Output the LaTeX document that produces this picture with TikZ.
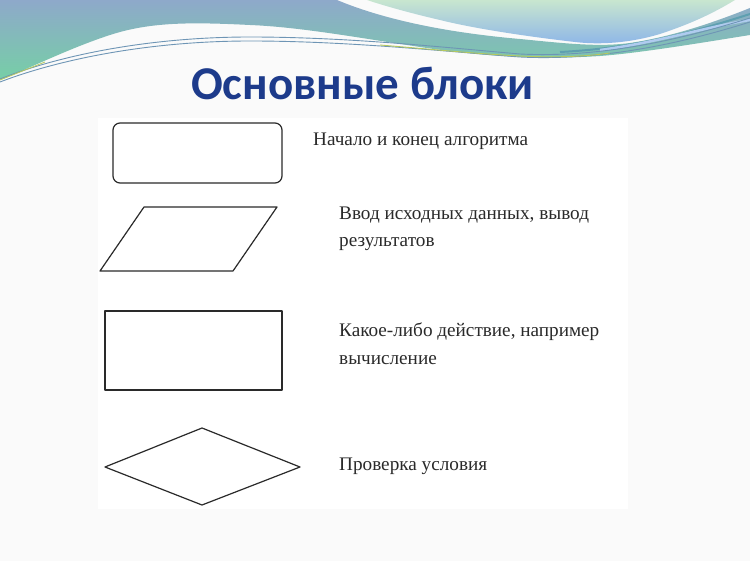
\documentclass[tikz,border=0pt]{standalone}
\usepackage{fontspec}
\setmainfont{Liberation Serif}
\newfontfamily\titlefont{Carlito}
\usetikzlibrary{shapes.geometric}
\definecolor{slidebg}{HTML}{FAFAFA}
\definecolor{titleblue}{HTML}{1D3B8B}
\definecolor{bandtop}{HTML}{8EA9CA}
\definecolor{bandbot}{HTML}{76CFA6}
\definecolor{btop}{HTML}{C8E6CF}
\definecolor{bbot}{HTML}{8DB5E8}
\definecolor{lineblue}{HTML}{6E95B5}
\definecolor{lineyel}{HTML}{B5C95E}
\definecolor{streak}{HTML}{5E9FB0}
\definecolor{ink}{HTML}{2A2A2A}
\tikzset{
  shapeline/.style={draw=ink, line width=1.2pt, line join=round},
  label/.style={anchor=base west, inner sep=0pt, font=\fontsize{19.2}{23}\selectfont, text=ink},
}
\begin{document}
\begin{tikzpicture}[x=1pt,y=-1pt]
\useasboundingbox (0,0) rectangle (750,561);
\fill[slidebg] (0,0) rectangle (750,561);
% header waves
\shade[top color=btop, bottom color=bbot]
  (367,0) -- (735,0) .. controls (712,14) and (690,24) .. (660,34)
  .. controls (630,43) and (600,45) .. (575,42)
  .. controls (540,38) and (480,30) .. (440,20)
  .. controls (410,13) and (385,6) .. (367,0) -- cycle;
\shade[top color=bandtop, bottom color=bandbot]
  (0,0) -- (337,0) .. controls (380,18) and (440,32) .. (520,39)
  .. controls (570,44) and (600,47) .. (630,43)
  .. controls (670,37) and (710,24) .. (750,8) -- (750,35)
  .. controls (700,43) and (640,53) .. (600,56)
  .. controls (540,60) and (480,56) .. (420,47)
  .. controls (360,38) and (300,27) .. (250,25)
  .. controls (190,22) and (150,22) .. (110,35)
  .. controls (70,48) and (30,68) .. (0,80) -- cycle;
\draw[streak, line width=2pt] (560,52) .. controls (640,48) and (700,30) .. (750,14);
\draw[bbot!70!white, line width=2.5pt] (600,50) .. controls (660,42) and (710,26) .. (750,20);
\draw[lineblue, line width=0.9pt] (0,79) .. controls (60,55) and (150,37) .. (250,37)
  .. controls (350,37) and (450,48) .. (520,54) .. controls (600,58) and (680,40) .. (750,18);
\draw[lineblue, line width=0.9pt] (0,82) .. controls (60,59) and (150,41) .. (250,41)
  .. controls (350,41) and (450,52) .. (520,57) .. controls (600,61) and (680,44) .. (750,22);
\draw[lineyel, line width=0.9pt] (380,45) .. controls (440,50) and (480,54) .. (520,56) .. controls (560,58) and (590,56) .. (610,53);
\draw[lineyel, line width=0.8pt] (0,80) .. controls (15,74) and (30,68) .. (45,62);
% title
\node[anchor=base, inner sep=0pt, font=\titlefont\bfseries\fontsize{47}{56}\selectfont, text=titleblue] (title) at (362.5,100) {Основные блоки};
% picture area
\fill[white] (98,118) rectangle (628,509);
% shapes
\draw[shapeline, rounded corners=7pt] (113,123) rectangle (282,183);
\draw[shapeline] (100,271) -- (144,207) -- (277,207) -- (233,271) -- cycle;
\draw[shapeline] (105,311) rectangle (282,390);
\draw[shapeline] (105,467) -- (202,428) -- (300,467) -- (202,505) -- cycle;
% labels
\node[label] (t1) at (313,146) {Начало и конец алгоритма};
\node[label] (t2a) at (339,220) {Ввод исходных данных, вывод};
\node[label] (t2b) at (339,247) {результатов};
\node[label] (t3a) at (339,337) {Какое-либо действие, например};
\node[label] (t3b) at (339,365) {вычисление};
\node[label] (t4) at (339,470) {Проверка условия};
\end{tikzpicture}
\end{document}
